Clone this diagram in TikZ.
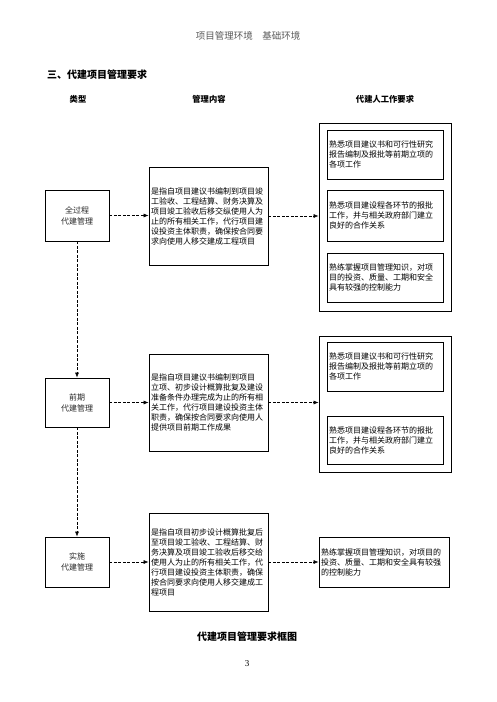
\documentclass[tikz,border=0pt]{standalone}
\usepackage{fontspec}
\setmainfont{Noto Sans CJK SC}
\newfontfamily\numfont{Liberation Serif}
\usetikzlibrary{arrows.meta}
\begin{document}
\begin{tikzpicture}[x=1pt,y=-1pt,
  box/.style={draw,line width=0.8pt,inner sep=0pt},
  txt/.style={font=\fontsize{8}{10}\selectfont,align=left},
  ctxt/.style={font=\fontsize{8}{11}\selectfont,align=center,text=black!85},
  conn/.style={line width=0.6pt,dash pattern=on 3pt off 1.5pt,-{Latex[length=5pt,width=4pt]}},
  head/.style={font=\bfseries\fontsize{8.3}{10}\selectfont}]
\useasboundingbox (0,0) rectangle (496,702);
% headers
\node[font=\fontsize{9.5}{11}\selectfont,text=black!65] (hdr) at (248,36) {项目管理环境　基础环境};
\node[font=\bfseries\fontsize{10}{12}\selectfont,anchor=west,inner sep=0pt] (ttl) at (47,75) {三、代建项目管理要求};
\node[head] (h1) at (78,99) {类型};
\node[head] (h2) at (209,99) {管理内容};
\node[head] (h3) at (385,99) {代建人工作要求};
% left boxes
\node[box,minimum width=64pt,minimum height=51pt,ctxt] (L1) at (77,215.5) {全过程\\代建管理};
\node[box,minimum width=64pt,minimum height=49pt,ctxt] (L2) at (77,402.5) {前期\\代建管理};
\node[box,minimum width=64pt,minimum height=50pt,ctxt] (L3) at (77,562) {实施\\代建管理};
% middle boxes
\node[box,minimum width=119pt,minimum height=98pt,txt,text width=115pt] (M1) at (208.5,216) {是指自项目建议书编制到项目竣\\工验收、工程结算、财务决算及\\项目竣工验收后移交纵使用人为\\止的所有相关工作，代行项目建\\设投资主体职责，确保按合同要\\求向使用人移交建成工程项目};
\node[box,minimum width=119pt,minimum height=97pt,txt,text width=115pt] (M2) at (208.5,402.5) {是指自项目建议书编制到项目\\立项、初步设计概算批复及建设\\准备条件办理完成为止的所有相\\关工作，代行项目建设投资主体\\职责，确保按合同要求向使用人\\提供项目前期工作成果};
\node[box,minimum width=119pt,minimum height=98pt,txt,text width=115pt] (M3) at (208.5,562) {是指自项目初步设计概算批复后\\至项目竣工验收、工程结算、财\\务决算及项目竣工验收后移交给\\使用人为止的所有相关工作，代\\行项目建设投资主体职责，确保\\按合同要求向使用人移交建成工\\程项目};
% right outer boxes
\node[box,minimum width=132pt,minimum height=188pt] (R1) at (385,217) {};
\node[box,minimum width=116pt,minimum height=49pt,txt,text width=112pt] (R1a) at (385,154.5) {熟悉项目建议书和可行性研究\\报告编制及报批等前期立项的\\各项工作};
\node[box,minimum width=116pt,minimum height=51pt,txt,text width=112pt] (R1b) at (385,215.5) {熟悉项目建设程各环节的报批\\工作，并与相关政府部门建立\\良好的合作关系};
\node[box,minimum width=116pt,minimum height=49pt,txt,text width=112pt] (R1c) at (385,277.5) {熟练掌握项目管理知识，对项\\目的投资、质量、工期和安全\\具有较强的控制能力};
\node[box,minimum width=132pt,minimum height=136pt] (R2) at (385,404) {};
\node[box,minimum width=116pt,minimum height=49pt,txt,text width=112pt] (R2a) at (385,366.5) {熟悉项目建议书和可行性研究\\报告编制及报批等前期立项的\\各项工作};
\node[box,minimum width=116pt,minimum height=48pt,txt,text width=112pt] (R2b) at (385,440) {熟悉项目建设程各环节的报批\\工作，并与相关政府部门建立\\良好的合作关系};
\node[box,minimum width=130pt,minimum height=50pt,txt,text width=126pt] (R3) at (384,562) {熟练掌握项目管理知识，对项目的\\投资、质量、工期和安全具有较强\\的控制能力};
% connectors
\draw[conn] (L1.east) -- (L1.east -| M1.west);
\draw[conn] (M1.east) -- (M1.east -| R1.west);
\draw[conn] (L2.east) -- (L2.east -| M2.west);
\draw[conn] (M2.east) -- (M2.east -| R2.west);
\draw[conn] (L3.east) -- (L3.east -| M3.west);
\draw[conn] (M3.east) -- (M3.east -| R3.west);
\draw[conn] (L1.south) -- (L2.north);
\draw[conn] (L2.south) -- (L3.north);
% caption
\node[font=\bfseries\fontsize{10}{12}\selectfont] (cap) at (247,637) {代建项目管理要求框图};
\node[font=\numfont\fontsize{9}{11}\selectfont] (pg) at (247,664) {3};
\end{tikzpicture}
\end{document}
